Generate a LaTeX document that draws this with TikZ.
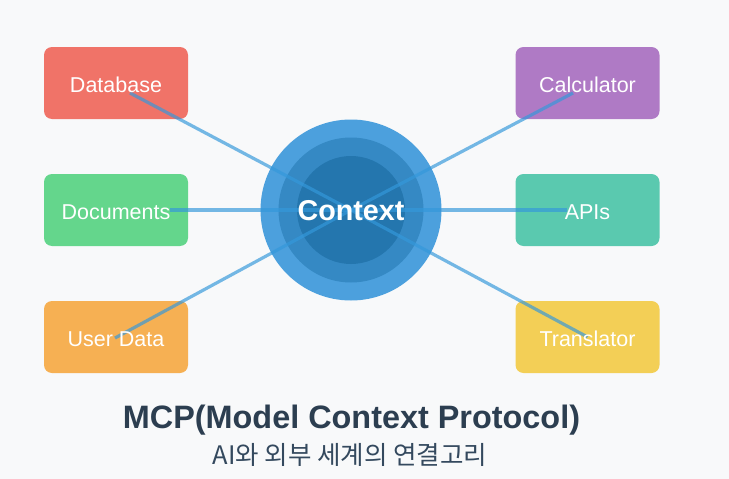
\documentclass[tikz,border=0pt]{standalone}
\usepackage{fontspec}
\setmainfont{Liberation Sans}
\newfontfamily\krfont{Noto Sans CJK KR}
\usetikzlibrary{positioning}
\definecolor{bgcol}{HTML}{F8F9FA}
\definecolor{dbred}{HTML}{F07368}
\definecolor{docgreen}{HTML}{64D68C}
\definecolor{usrorange}{HTML}{F6B053}
\definecolor{calcpurple}{HTML}{AF7AC5}
\definecolor{apiteal}{HTML}{5AC9AF}
\definecolor{tryellow}{HTML}{F3CF56}
\definecolor{ringout}{HTML}{4CA0DD}
\definecolor{ringmid}{HTML}{3589C4}
\definecolor{ringin}{HTML}{2476AE}
\definecolor{linkblue}{HTML}{3498DB}
\definecolor{titlecol}{HTML}{2C3E50}
\definecolor{subcol}{HTML}{34495E}

\begin{document}
\begin{tikzpicture}[x=1pt,y=-1pt,
    box/.style={rounded corners=8pt, minimum width=144pt, minimum height=72pt, inner sep=0pt},
    boxtext/.style={anchor=base, text=white, font=\fontsize{21.5}{24}\selectfont},
    ring/.style={circle, inner sep=0pt},
    link/.style={line width=3.2pt, draw=linkblue, draw opacity=0.68}]
    % Background
    \fill[bgcol] (0,0) rectangle (729,479);

    % Context rings
    \node[ring, fill=ringout, minimum size=181pt] (ctx) at (351,210) {};
    \node[ring, fill=ringmid, minimum size=145pt] (ctx-mid) at (ctx) {};
    \node[ring, fill=ringin, minimum size=108pt] (ctx-in) at (ctx) {};

    % Boxes
    \foreach \name/\col/\x/\y in {db/dbred/116/83, doc/docgreen/116/210, usr/usrorange/116/337,
                                  calc/calcpurple/587.5/83, api/apiteal/587.5/210, tr/tryellow/587.5/337} {
        \node[box, fill=\col] (\name) at (\x,\y) {};
    }

    % Link ends
    \coordinate (db-end) at ([shift={(14,10)}]db.center);
    \coordinate (doc-end) at ([shift={(54,0)}]doc.center);
    \coordinate (usr-end) at ([shift={(-1,1)}]usr.center);
    \coordinate (calc-end) at ([shift={(-14.5,10)}]calc.center);
    \coordinate (api-end) at ([shift={(-20.5,0)}]api.center);
    \coordinate (tr-end) at (tr.center);

    % Links
    \foreach \name in {db,doc,usr,calc,api,tr} {
        \draw[link] (\name-end) -- (ctx.center);
    }

    % Labels
    \foreach \name/\label in {db/Database, doc/Documents, usr/User Data,
                              calc/Calculator, api/APIs, tr/Translator} {
        \node[boxtext] (\name-text) at ([shift={(0,9.5)}]\name.center) {\label};
    }
    \node[anchor=base, text=white, font=\bfseries\fontsize{28.7}{32}\selectfont] (ctx-text) at ([shift={(0,10)}]ctx.center) {Context};

    % Title
    \node[anchor=base, text=titlecol, font=\bfseries\fontsize{32.4}{36}\selectfont] (title) at (351.5,428) {MCP(Model Context Protocol)};
    \node[anchor=base, text=subcol, font=\krfont\fontsize{25.5}{30}\selectfont] (subtitle) at (350,464) {AI와 외부 세계의 연결고리};
\end{tikzpicture}
\end{document}
